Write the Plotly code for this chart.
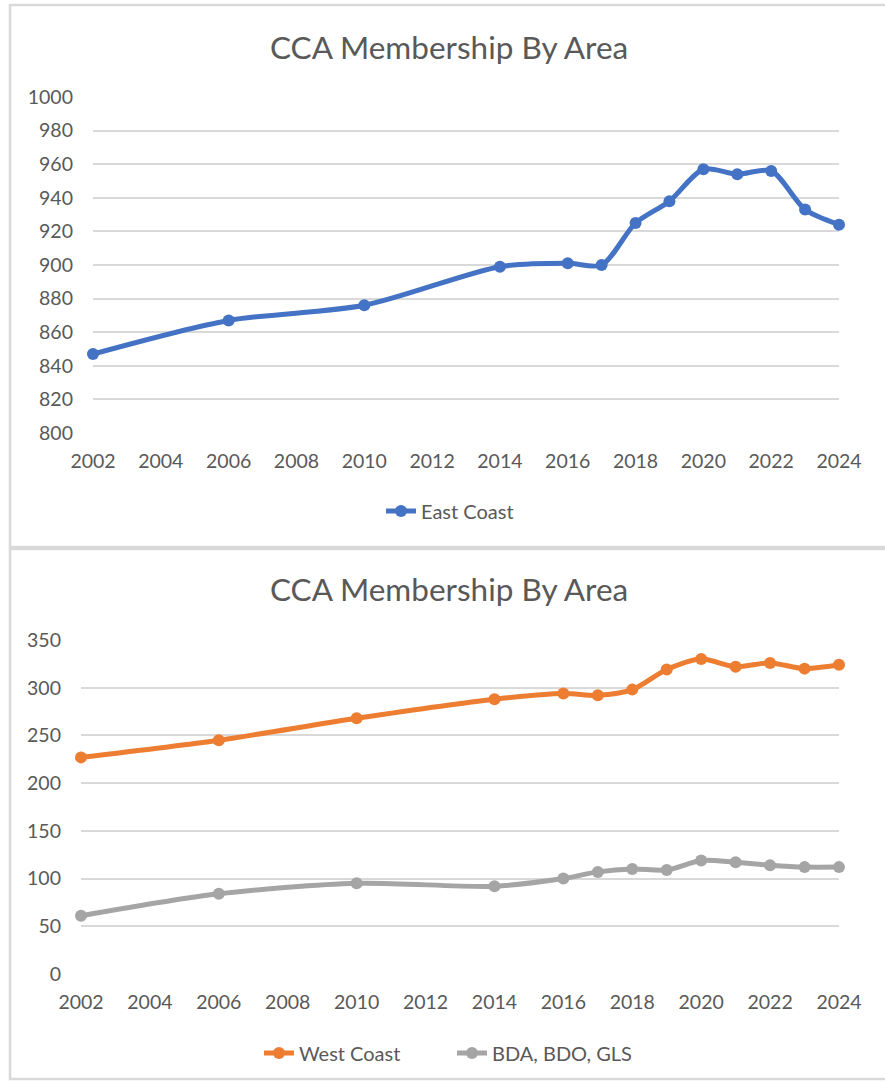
import plotly.graph_objects as go

years = [2002, 2006, 2010, 2014, 2016, 2017, 2018, 2019, 2020, 2021, 2022, 2023, 2024]
east_coast = [847, 867, 876, 899, 901, 900, 925, 938, 957, 954, 956, 933, 924]
west_coast = [227, 245, 268, 288, 294, 292, 298, 319, 330, 322, 326, 320, 324]
bda_bdo_gls = [61, 84, 95, 92, 100, 107, 110, 109, 119, 117, 114, 112, 112]

title_text = "CCA Membership By Area"
FONT = "Lato"
TXT = "#595959"
GRID = "#d9d9d9"
W, H = 885, 1082

def px(x):
    return x / W

def py(y):
    return 1 - y / H

fig = go.Figure()

def add_series(name, y, color, xa, ya, legend):
    fig.add_trace(go.Scatter(
        x=years, y=y, name=name, mode="lines+markers",
        line=dict(color=color, width=5, shape="spline", smoothing=0.8),
        marker=dict(color=color, size=12),
        xaxis=xa, yaxis=ya, legend=legend, cliponaxis=False,
    ))

add_series("East Coast", east_coast, "#4472C4", "x", "y", "legend")
add_series("West Coast", west_coast, "#ED7D31", "x2", "y2", "legend2")
add_series("BDA, BDO, GLS", bda_bdo_gls, "#A5A5A5", "x2", "y2", "legend2")

xcommon = dict(range=[2002, 2024], dtick=2, tick0=2002, showgrid=False,
               showline=False, zeroline=False, ticks="", automargin=False,
               tickfont=dict(family=FONT, size=19.5, color=TXT), ticklabelstandoff=14)
ycommon = dict(showgrid=True, gridcolor=GRID, gridwidth=1.5, zeroline=False,
               showline=False, ticks="", automargin=False,
               tickfont=dict(family=FONT, size=19.5, color=TXT), ticklabelstandoff=19)

fig.update_layout(
    width=W, height=H, margin=dict(l=0, r=0, t=0, b=0, autoexpand=False),
    paper_bgcolor="white", plot_bgcolor="white",
    xaxis=dict(domain=[px(93), px(839)], anchor="y", **xcommon),
    yaxis=dict(domain=[py(433), py(97)], range=[800, 1000], dtick=20, anchor="x", **ycommon),
    xaxis2=dict(domain=[px(81), px(839)], anchor="y2", **xcommon),
    yaxis2=dict(domain=[py(974), py(640)], range=[0, 350], dtick=50, anchor="x2", **ycommon),
    legend=dict(x=px(450), xanchor="center", y=py(511), yanchor="middle", orientation="h",
                font=dict(family=FONT, size=20, color=TXT), bgcolor="rgba(0,0,0,0)"),
    legend2=dict(x=px(452), xanchor="center", y=py(1053), yanchor="middle", orientation="h",
                 entrywidth=148, entrywidthmode="pixels",
                 font=dict(family=FONT, size=20, color=TXT), bgcolor="rgba(0,0,0,0)"),
    showlegend=True,
)

for yc in (47, 589):
    fig.add_annotation(text=title_text, x=px(449), y=py(yc), xref="paper", yref="paper",
                       xanchor="center", yanchor="middle", showarrow=False,
                       font=dict(family=FONT, size=31.5, color=TXT))

# chart frames
fig.add_shape(type="rect", xref="paper", yref="paper", x0=px(10), x1=px(895), y0=py(547), y1=py(5),
              line=dict(color=GRID, width=2.5), fillcolor="rgba(0,0,0,0)", layer="below")
fig.add_shape(type="rect", xref="paper", yref="paper", x0=px(10), x1=px(895), y0=py(1079), y1=py(549),
              line=dict(color=GRID, width=2.5), fillcolor="rgba(0,0,0,0)", layer="below")

fig.write_html("out.html", config={"displayModeBar": False},
               post_script="document.body.style.margin='0px';document.documentElement.style.overflow='hidden';")
